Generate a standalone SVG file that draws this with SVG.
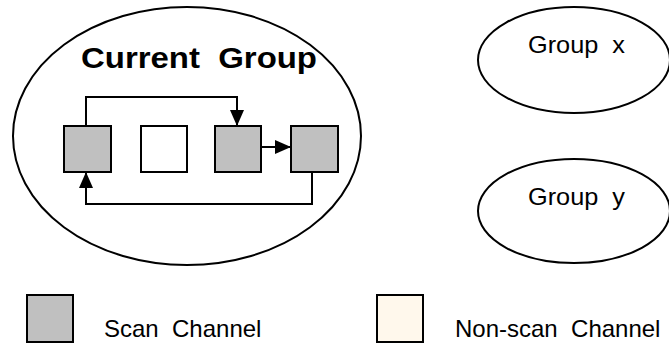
<svg xmlns="http://www.w3.org/2000/svg" width="669" height="345" viewBox="0 0 669 345">
<style>
.grp{fill:#fff;stroke:#000;stroke-width:2}
.scan{fill:#c0c0c0;stroke:#000;stroke-width:2}
.nons{fill:#fff;stroke:#000;stroke-width:2}
.cream{fill:#fff8ec;stroke:#000;stroke-width:2}
.conn{fill:none;stroke:#000;stroke-width:2}
.lbl{font-family:"Liberation Sans",Arial,sans-serif;fill:#000;white-space:pre}
</style>
<defs>
<marker id="arr" markerUnits="userSpaceOnUse" markerWidth="17" markerHeight="16" refX="16" refY="8" orient="auto">
<path d="M0,1 L16,8 L0,15 Z" fill="#000"/>
</marker>
</defs>
<rect width="669" height="345" fill="#fff"/>
<g id="current-group">
<ellipse class="grp" cx="187" cy="136" rx="174" ry="129"/>
<text class="lbl" x="81" y="68" font-size="29" font-weight="bold" textLength="236" lengthAdjust="spacingAndGlyphs" xml:space="preserve">Current  Group</text>
</g>
<g id="ch1"><rect class="scan" x="64" y="126" width="47" height="46"/></g>
<g id="ch2"><rect class="nons" x="141" y="126" width="46" height="46"/></g>
<g id="ch3"><rect class="scan" x="215" y="126" width="46" height="46"/></g>
<g id="ch4"><rect class="scan" x="291" y="126" width="47" height="46"/></g>
<g id="group-x">
<ellipse class="grp" cx="574" cy="60" rx="96" ry="53"/>
<text class="lbl" x="528" y="53" font-size="24" textLength="97" lengthAdjust="spacingAndGlyphs" xml:space="preserve">Group  x</text>
</g>
<g id="group-y">
<ellipse class="grp" cx="574" cy="211" rx="96" ry="52"/>
<text class="lbl" x="528" y="205" font-size="24" textLength="97" lengthAdjust="spacingAndGlyphs" xml:space="preserve">Group  y</text>
</g>
<g id="connectors">
<path class="conn" d="M86,126 V97 H237 V126" marker-end="url(#arr)"/>
<path class="conn" d="M261,147 H291" marker-end="url(#arr)"/>
<path class="conn" d="M312,172 V204 H86 V172" marker-end="url(#arr)"/>
</g>
<g id="legend-scan">
<rect class="scan" x="27" y="295" width="46" height="47"/>
<text class="lbl" x="104" y="337" font-size="24" xml:space="preserve">Scan  Channel</text>
</g>
<g id="legend-nonscan">
<rect class="cream" x="377" y="295" width="46" height="47"/>
<text class="lbl" x="455" y="337" font-size="24" xml:space="preserve">Non-scan  Channel</text>
</g>
</svg>
